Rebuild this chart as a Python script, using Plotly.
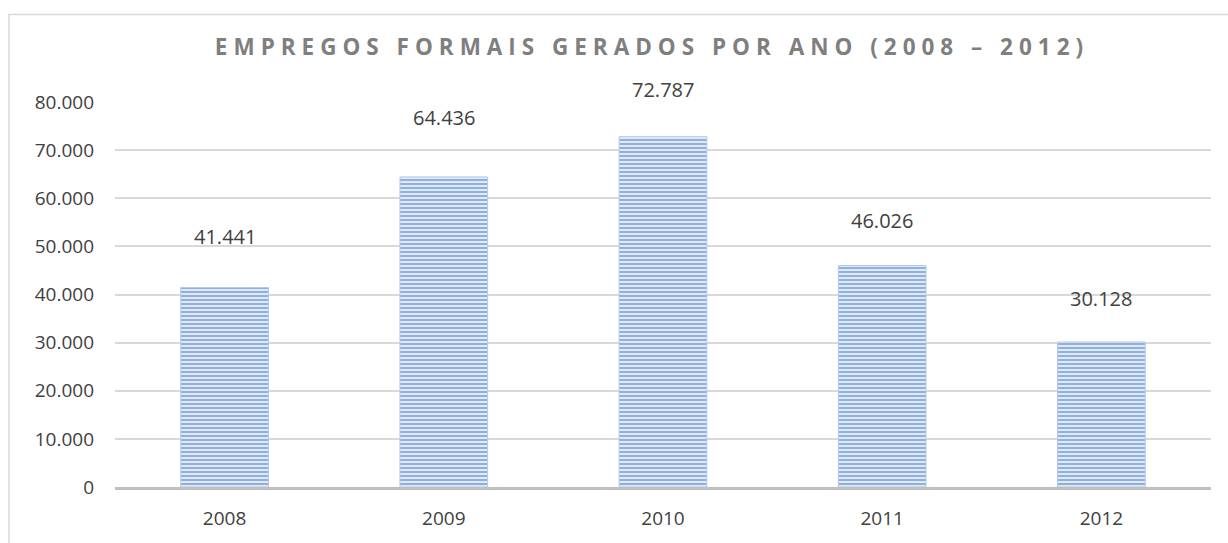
import plotly.graph_objects as go

# chart data
years = ["2008", "2009", "2010", "2011", "2012"]
jobs = [41441, 64436, 72787, 46026, 30128]
label_shift = [36, 44, 32, 30, 28]  # data label offsets above bars (px)

title_text = "EMPREGOS FORMAIS GERADOS POR ANO (2008 – 2012)"

# letter-spaced title (plotly has no letter-spacing, use thin + hair spaces)
gap = "\u2009\u200a"
spaced = gap.join(ch if ch != " " else "\u00a0" for ch in title_text)

W, H = 1228, 543
L, R, T, B = 115, 17, 102, 49
pw, ph = W - L - R, H - T - B


def px_x(x):
    return (x - L) / pw


def px_y(y):
    return (H - B - y) / ph


fig = go.Figure()

fig.add_trace(go.Bar(
    x=years,
    y=jobs,
    width=0.4,
    marker=dict(
        color="#dfe8f5",
        line=dict(color="#b4c9e8", width=1),
        pattern=dict(shape="-", size=4, solidity=0.5,
                     fgcolor="#8fb0de", bgcolor="#e0e9f6", fillmode="replace"),
    ),
    hoverinfo="skip",
    showlegend=False,
))

# data labels; category index as x so "2009" isn't read as position 2009
for i, (v, s) in enumerate(zip(jobs, label_shift)):
    fig.add_annotation(
        x=i, y=v, text=f"{v:,}".replace(",", "."),
        showarrow=False, yshift=s, yanchor="bottom",
        font=dict(family="Open Sans", size=20, color="#404040"),
    )

# chart border (only top and left visible in the crop)
fig.add_shape(
    type="rect", xref="paper", yref="paper",
    x0=px_x(9), x1=px_x(1260), y0=px_y(580), y1=px_y(13),
    line=dict(color="#d9d9d9", width=1.5), layer="below",
)

fig.update_layout(
    width=W, height=H,
    margin=dict(l=L, r=R, t=T, b=B),
    paper_bgcolor="white",
    plot_bgcolor="white",
    separators=",.",
    title=dict(
        text=spaced, x=px_x(649), xref="paper", xanchor="center",
        y=1 - 47 / H, yanchor="middle",
        font=dict(family="Open Sans", size=22.5, color="#7f7f7f", weight="bold"),
    ),
    xaxis=dict(
        type="category", range=[-0.5, 4.5],
        showgrid=False, showline=True, linecolor="#bfbfbf", linewidth=3,
        ticks="", ticklabelstandoff=12,
        tickfont=dict(family="Open Sans", size=19, color="#404040"),
    ),
    yaxis=dict(
        range=[0, 80000], dtick=10000, tickformat=",d",
        showgrid=True, gridcolor="#d9d9d9", gridwidth=1.5,
        zeroline=False, showline=False, ticks="", ticklabelstandoff=20,
        tickfont=dict(family="Open Sans", size=19, color="#404040"),
    ),
)

fig.write_html(
    "out.html",
    config=dict(displayModeBar=False),
    post_script="document.body.style.margin='0';document.body.style.overflow='hidden';",
)
